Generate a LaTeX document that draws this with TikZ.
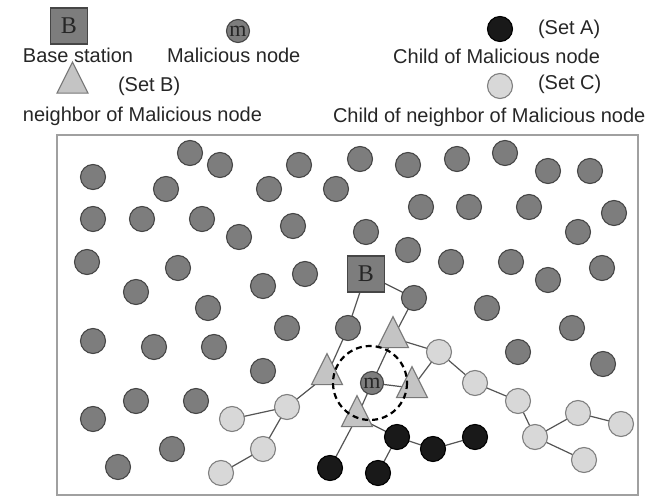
\documentclass[tikz,border=0pt]{standalone}
\usepackage{fontspec}
\setmainfont{Liberation Sans}
\newfontfamily\glyphfont{Liberation Serif}
\usetikzlibrary{shapes.geometric,backgrounds}

\definecolor{plainfill}{RGB}{125,125,125}
\definecolor{plainedge}{RGB}{70,70,70}
\definecolor{setafill}{RGB}{25,25,25}
\definecolor{setbfill}{RGB}{196,196,196}
\definecolor{setbedge}{RGB}{120,120,120}
\definecolor{setcfill}{RGB}{216,216,216}
\definecolor{setcedge}{RGB}{128,128,128}
\definecolor{linkcol}{RGB}{85,85,85}
\definecolor{framecol}{RGB}{160,160,160}

\begin{document}
\begin{tikzpicture}[x=1pt,y=-1pt,
  every node/.style={inner sep=0pt, outer sep=0pt},
  txt/.style={font=\fontsize{20}{24}\selectfont, text=black!85},
  sensor/.style={circle, minimum size=25pt, draw=plainedge, fill=plainfill, line width=1.1pt},
  rogue/.style={circle, minimum size=23pt, draw=plainedge, fill=plainfill, line width=1.1pt,
    font=\glyphfont\fontsize{22}{22}\selectfont, text=black!85},
  station/.style={rectangle, minimum width=37pt, minimum height=36pt, draw=plainedge,
    fill=plainfill, line width=1.1pt, font=\glyphfont\fontsize{24}{24}\selectfont, text=black!85},
  childA/.style={circle, minimum size=25pt, draw=black, fill=setafill, line width=1.1pt},
  childC/.style={circle, minimum size=25pt, draw=setcedge, fill=setcfill, line width=1.1pt},
  neigh/.style={isosceles triangle, isosceles triangle stretches, shape border rotate=90,
    minimum width=31pt, minimum height=31pt, draw=setbedge, fill=setbfill, line width=1.1pt},
  link/.style={draw=linkcol, line width=1.2pt},
  frame/.style={draw=framecol, line width=1.8pt},
  zone/.style={draw=black, line width=2.2pt, dash pattern=on 6pt off 4pt}
]
\useasboundingbox (0,0) rectangle (657,497);

% ---------- legend ----------
\node[station] (lgB) at (69,26) {B};
\node[txt, anchor=base west] (lgBtxt) at (23,63) {Base station};
\node[rogue] (lgM) at (238,31) {m};
\node[txt, anchor=base west] (lgMtxt) at (167,63) {Malicious node};
\node[childA] (lgA) at (500,29) {};
\node[txt, anchor=base west] (lgAset) at (538,35) {(Set A)};
\node[txt, anchor=base east] (lgAtxt) at (600,64) {Child of Malicious node};
\node[neigh] (lgT) at (72.5,83.5) {};
\node[txt, anchor=base west] (lgTset) at (118,92) {(Set B)};
\node[txt, anchor=base west] (lgTtxt) at (23,122) {neighbor of Malicious node};
\node[childC] (lgC) at (500,86) {};
\node[txt, anchor=base west] (lgCset) at (538,90) {(Set C)};
\node[txt, anchor=base west] (lgCtxt) at (333,123) {Child of neighbor of Malicious node};

% ---------- sensor field ----------
\draw[frame] (57,135) rectangle (638,495);

% ordinary sensors
\foreach \p [count=\i] in {(190,153),(220,165),(93,177),(166,189),(299,165),(269,189),
  (336,189),(93,219),(142,219),(202,219),(239,237),(293,226),(87,262),(178,268),
  (136,292),(263,286),(305,274),(208,308),(360,159),(408,165),(457,159),(505,153),
  (548,171),(590,171),(421,207),(469,207),(529,207),(614,213),(366,232),(578,232),
  (408,250),(451,262),(511,262),(602,268),(548,280),(487,308),(93,341),(154,347),
  (214,347),(287,328),(263,371),(136,401),(196,401),(93,419),(172,449),(118,467),
  (572,328),(518,352),(603,364)}
  \node[sensor] (s\i) at \p {};

% route from the base station
\node[station] (bs) at (366,274) {B};
\node[sensor] (hopL) at (348,328) {};
\node[sensor] (hopR) at (414,298) {};

% malicious node and its neighbours (Set B)
\node[rogue] (mal) at (372,383) {m};
\node[neigh] (nbTop) at (393,338) {};
\node[neigh] (nbLeft) at (327,375) {};
\node[neigh] (nbRight) at (412,388) {};
\node[neigh] (nbBot) at (357,417) {};

% children of the malicious node (Set A)
\node[childA] (a1) at (397,437) {};
\node[childA] (a2) at (433,449) {};
\node[childA] (a3) at (475,437) {};
\node[childA] (a4) at (330,468) {};
\node[childA] (a5) at (378,473) {};

% children of the neighbours (Set C)
\node[childC] (c1) at (439,352) {};
\node[childC] (c2) at (475,383) {};
\node[childC] (c3) at (518,401) {};
\node[childC] (c4) at (535,437) {};
\node[childC] (c5) at (578,413) {};
\node[childC] (c6) at (621,424) {};
\node[childC] (c7) at (584,460) {};
\node[childC] (c8) at (287,407) {};
\node[childC] (c9) at (232,419) {};
\node[childC] (c10) at (263,449) {};
\node[childC] (c11) at (221,473) {};

% radio range of the malicious node
\draw[zone] (370,383) circle[radius=37];

% links
\begin{scope}[on background layer]
  \draw[link] (bs.center) -- (hopL.center);
  \draw[link] (bs.center) -- (hopR.center);
  \draw[link] (hopL.center) -- (nbLeft.center);
  \draw[link] (hopR.center) -- (nbTop.center);
  \draw[link] (nbTop.center) -- (c1.center);
  \draw[link] (nbTop.center) -- (mal.center);
  \draw[link] (mal.center) -- (nbBot.center);
  \draw[link] (mal.center) -- (nbRight.center);
  \draw[link] (nbRight.center) -- (c1.center);
  \draw[link] (nbLeft.center) -- (c8.center);
  \draw[link] (c8.center) -- (c9.center);
  \draw[link] (c8.center) -- (c10.center);
  \draw[link] (c10.center) -- (c11.center);
  \draw[link] (nbBot.center) -- (a4.center);
  \draw[link] (nbBot.center) -- (a1.center);
  \draw[link] (a1.center) -- (a2.center);
  \draw[link] (a2.center) -- (a3.center);
  \draw[link] (a1.center) -- (a5.center);
  \draw[link] (c1.center) -- (c2.center);
  \draw[link] (c2.center) -- (c3.center);
  \draw[link] (c3.center) -- (c4.center);
  \draw[link] (c4.center) -- (c5.center);
  \draw[link] (c5.center) -- (c6.center);
  \draw[link] (c4.center) -- (c7.center);
\end{scope}
\end{tikzpicture}
\end{document}
